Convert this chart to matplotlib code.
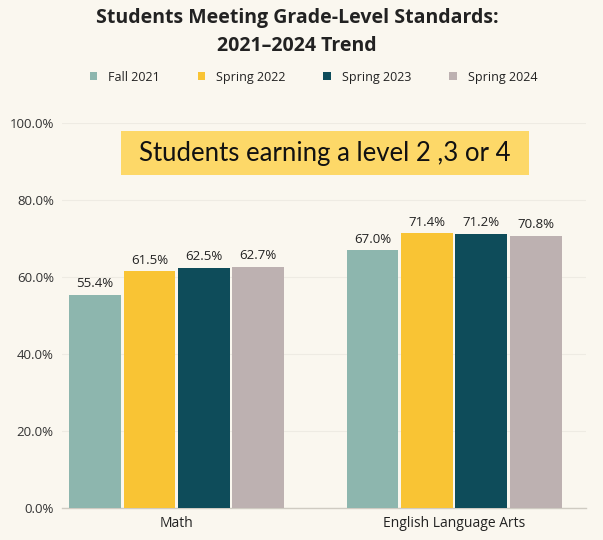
import matplotlib
matplotlib.use("Agg")
import matplotlib.pyplot as plt
from matplotlib.patches import Rectangle
import numpy as np

plt.rcParams['font.family'] = ['Open Sans', 'DejaVu Sans']

categories = ["Math", "English Language Arts"]
series_names = ["Fall 2021", "Spring 2022", "Spring 2023", "Spring 2024"]
fall_2021 = [55.4, 67.0]
spring_2022 = [61.5, 71.4]
spring_2023 = [62.5, 71.2]
spring_2024 = [62.7, 70.8]
series_values = [fall_2021, spring_2022, spring_2023, spring_2024]
colors = ["#8DB6AE", "#F9C434", "#0E4C5A", "#BDB1B1"]
yticks = [0, 20, 40, 60, 80, 100]

W, H = 603, 540
bg = "#FAF7EF"
fig = plt.figure(figsize=(6.03, 5.4), dpi=100, facecolor=bg)
ax = fig.add_axes([0.103, 0.059, 0.869, 0.713], facecolor=bg)

x = np.arange(len(categories))
step = 0.196
width = 0.187
for i, (name, vals, c) in enumerate(zip(series_names, series_values, colors)):
    pos = x + (i - 1.5) * step
    bars = ax.bar(pos, vals, width, color=c, label=name, zorder=3)
    for b, v in zip(bars, vals):
        ax.text(b.get_x() + b.get_width() / 2, v + 1.2, f"{v:.1f}%",
                ha="center", va="bottom", fontsize=9.5, color="#222222", zorder=4)

ax.set_ylim(0, 100)
ax.set_xlim(-0.413, 1.476)
ax.set_yticks(yticks)
ax.set_yticklabels([f"{t:.1f}%" for t in yticks], fontsize=9.5, color="#333333")
ax.set_xticks(x)
ax.set_xticklabels(categories, fontsize=10, color="#222222")
ax.tick_params(axis="both", length=0, pad=6)
ax.yaxis.grid(True, color="#EEEBE3", linewidth=0.8, zorder=0)
for s in ["top", "right", "left"]:
    ax.spines[s].set_visible(False)
ax.spines["bottom"].set_color("#CFCBC2")
ax.spines["bottom"].set_linewidth(1.0)

fig.text(0.493, 0.985, "Students Meeting Grade-Level Standards:\n2021\u20132024 Trend",
         ha="center", va="top", fontsize=14, fontweight="bold", color="#222222",
         linespacing=1.5)

leg = fig.legend(loc="center", bbox_to_anchor=(0.52, 0.857), ncol=4, frameon=False,
                 fontsize=9, handlelength=0.6, handleheight=0.6, columnspacing=3.0,
                 handletextpad=0.9)
for t in leg.get_texts():
    t.set_color("#222222")

# annotation box
bx0, bx1, by0, by1 = 121, 529, 131, 175
fig.patches.append(Rectangle((bx0 / W, 1 - by1 / H), (bx1 - bx0) / W, (by1 - by0) / H,
                             transform=fig.transFigure, facecolor="#FDD868",
                             edgecolor="none", zorder=5))
fig.text((bx0 + bx1) / 2 / W, 1 - (by0 + by1) / 2 / H, "Students earning a level 2 ,3 or 4",
         ha="center", va="center", fontsize=18.5, family=["Lato", "DejaVu Sans"],
         color="#111111", zorder=6)

fig.savefig("out.png", dpi=100, facecolor=bg)
